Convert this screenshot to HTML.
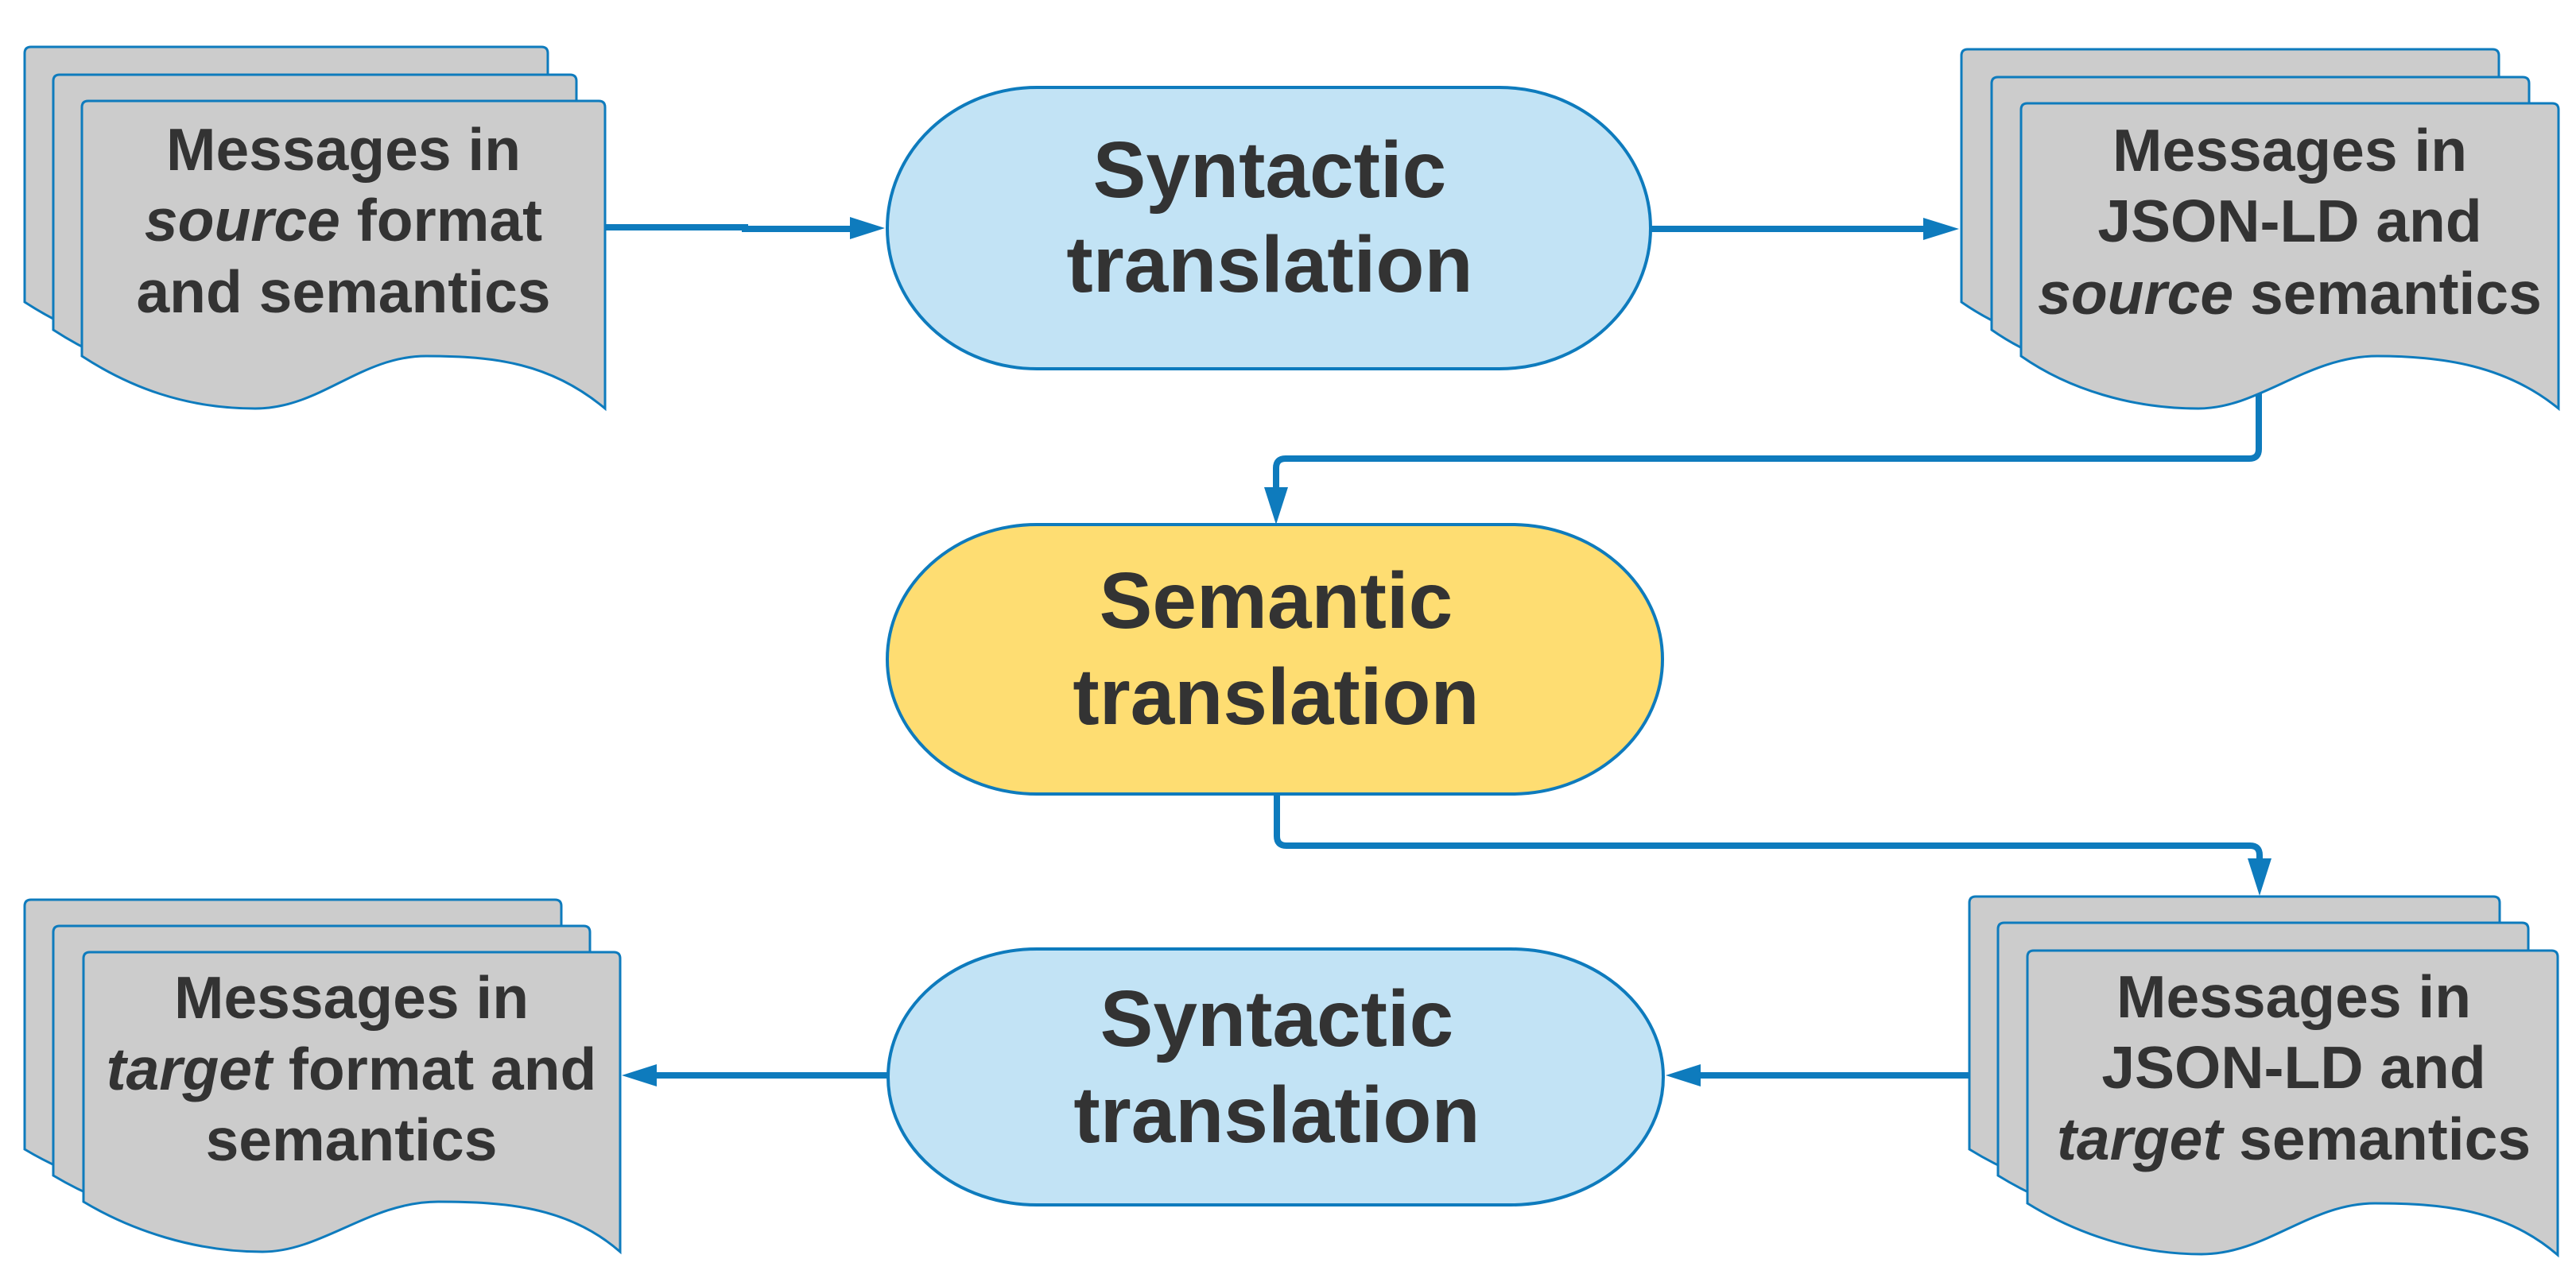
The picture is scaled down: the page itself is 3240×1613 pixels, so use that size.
<!DOCTYPE html>
<html><head><meta charset="utf-8"><style>
html,body{margin:0;padding:0;background:#fff;}
svg{display:block;}
text{font-family:"Liberation Sans",sans-serif;font-weight:bold;fill:#333333;text-anchor:middle;}
</style></head><body>
<svg width="3240" height="1613" viewBox="0 0 3240 1613" xmlns="http://www.w3.org/2000/svg">
<defs>
<path id="docA" d="M0,8 Q0,0 8,0 H650 Q658,0 658,8 V387 C590,330 520,321 433,321 C350,321 300,387 218,387 C130,387 60,360 0,321 Z"/>
<path id="docB" d="M0,8 Q0,0 8,0 H668 Q676,0 676,8 V384 C610,330 530,318 448,318 C360,318 300,384 223,384 C140,384 60,360 0,318 Z"/>
<path id="docC" d="M0,8 Q0,0 8,0 H667 Q675,0 675,8 V377 C610,320 530,314 446,314 C360,314 300,377 225,377 C140,377 60,350 0,314 Z"/>
<path id="docD" d="M0,8 Q0,0 8,0 H659 Q667,0 667,8 V383 C600,325 520,318 437,318 C355,318 300,382 219,382 C135,382 60,355 0,318 Z"/>
</defs>
<g fill="none" stroke="#0e7bbd" stroke-width="8">
<path d="M761,286 H937 V288 H1072"/>
<path d="M2076,288 H2422"/>
<path d="M2841,494 V565 Q2841,577 2829,577 H1617 Q1605,577 1605,589 V616"/>
<path d="M1606,999 V1052 Q1606,1064 1618,1064 H2830 Q2842,1064 2842,1076 V1083"/>
<path d="M2477,1353 H2136"/>
<path d="M1119,1353 H823"/>
</g>
<g fill="#0e7bbd">
<polygon points="1069,273 1113,287 1069,301"/>
<polygon points="2419,274 2464,288 2419,302"/>
<polygon points="1590,613 1620,613 1605,660"/>
<polygon points="2827,1080 2857,1080 2842,1127"/>
<polygon points="2139,1339 2095,1353 2139,1367"/>
<polygon points="826,1339 782,1353 826,1367"/>
</g>
<g fill="#cccccc" stroke="#0e7bbd" stroke-width="3">
<use href="#docA" x="31" y="59"/><use href="#docA" x="67" y="94"/><use href="#docA" x="103" y="127"/>
<use href="#docB" x="2467" y="62"/><use href="#docB" x="2505" y="97"/><use href="#docB" x="2542" y="130"/>
<use href="#docC" x="31" y="1132"/><use href="#docC" x="67" y="1165"/><use href="#docC" x="105" y="1198"/>
<use href="#docD" x="2477" y="1128"/><use href="#docD" x="2513" y="1161"/><use href="#docD" x="2550" y="1196"/>
</g>
<g stroke="#0e7bbd" stroke-width="4">
<path fill="#c2e3f5" d="M1304,110 H1886 A190,177 0 0 1 1886,464 H1304 A188,177 0 0 1 1304,110 Z"/>
<path fill="#fedd72" d="M1304,660 H1901 A190,169.5 0 0 1 1901,999 H1304 A188,169.5 0 0 1 1304,660 Z"/>
<path fill="#c2e3f5" d="M1304,1194 H1900 A192,161 0 0 1 1900,1516 H1304 A187,161 0 0 1 1304,1194 Z"/>
</g>
<g font-size="75">
<text x="432" y="214">Messages in</text>
<text x="432" y="303"><tspan font-style="italic">source</tspan> format</text>
<text x="432" y="393">and semantics</text>
<text x="2880" y="215">Messages in</text>
<text x="2880" y="304">JSON-LD and</text>
<text x="2880" y="395"><tspan font-style="italic">source</tspan> semantics</text>
<text x="442" y="1281">Messages in</text>
<text x="442" y="1371"><tspan font-style="italic">target</tspan> format and</text>
<text x="442" y="1460">semantics</text>
<text x="2885" y="1280">Messages in</text>
<text x="2885" y="1369">JSON-LD and</text>
<text x="2885" y="1459"><tspan font-style="italic">target</tspan> semantics</text>
</g>
<g font-size="100">
<text x="1597" y="248">Syntactic</text>
<text x="1597" y="367">translation</text>
<text x="1605" y="790">Semantic</text>
<text x="1605" y="911">translation</text>
<text x="1606" y="1316">Syntactic</text>
<text x="1606" y="1437">translation</text>
</g>
</svg>
</body></html>
